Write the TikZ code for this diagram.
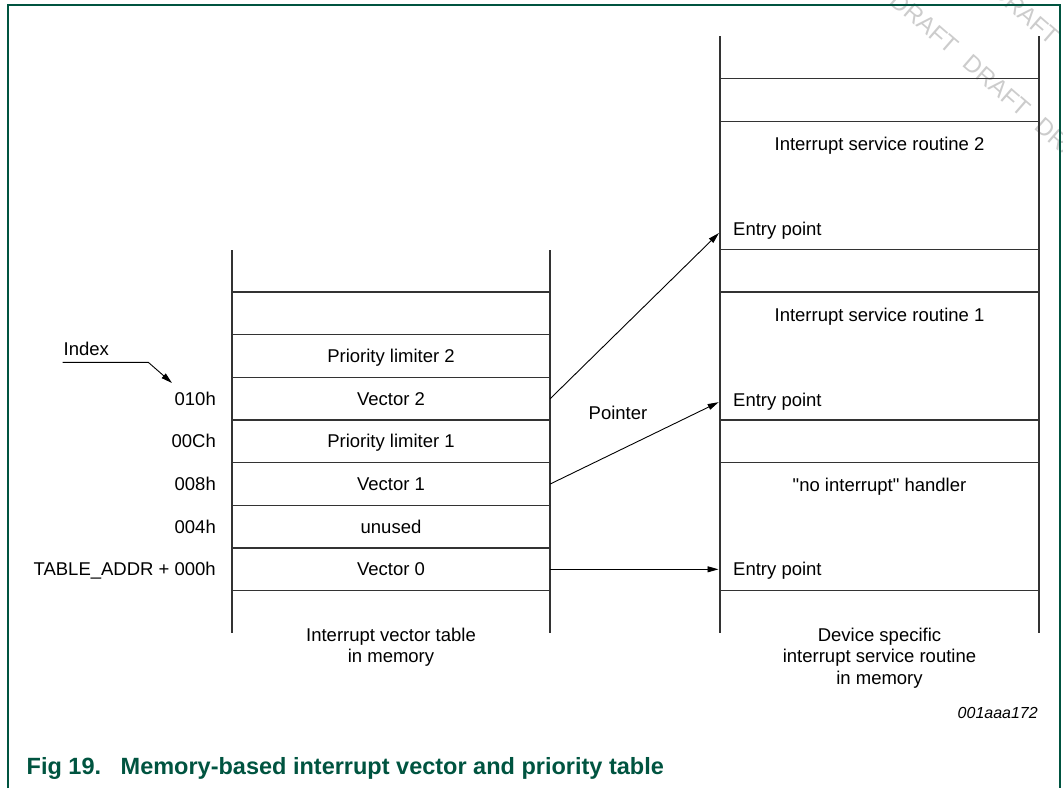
\documentclass[tikz,border=0pt]{standalone}
\usepackage{fontspec}
\setmainfont{Liberation Sans}[Ligatures=TeXOff]
\usetikzlibrary{arrows.meta}
\definecolor{framegreen}{RGB}{0,84,64}
\newcommand\diagfont{\fontsize{18.5}{21.5}\selectfont}
\newcommand\wmword{DRAFT}
\newcommand\wmgap{\hspace{16pt}}

\begin{document}
\begin{tikzpicture}[x=1pt,y=-1pt,
  txt/.style={inner sep=0pt, text height=13.2pt, text depth=0pt, font=\diagfont},
  cell/.style={txt, minimum width=318pt},
  addr/.style={txt, anchor=east},
  entry/.style={txt, anchor=west, inner xsep=13pt},
  capt/.style={inner sep=0pt, anchor=north, align=center, font=\diagfont},
  rule/.style={line width=1.3pt, draw=black!80},
  ptr/.style={line width=0.9pt, draw=black, -{Triangle[length=11pt,width=6pt]}, shorten >=1.5pt},
  wm/.style={inner sep=0pt, text=black!20, font=\fontsize{24}{24}\selectfont, rotate=-41},
  figcap/.style={inner sep=0pt, anchor=base west, text=framegreen,
                 font=\fontsize{23.5}{23.5}\selectfont\bfseries}
]
\useasboundingbox (0,0) rectangle (1063,788);

% watermark in the upper right corner
\begin{scope}
  \clip (0,0) rectangle (1063,788);
  \node[wm] (wmA) at (997,86) {\wmword\wmgap\wmword\wmgap\wmword};
  \node[wm] (wmB) at (1026,14) {\wmword\wmgap\wmword\wmgap\wmword};
\end{scope}

% figure frame
\draw[framegreen, line width=2pt] (8,788) -- (8,4.5) -- (1060,4.5) -- (1060,788);

% ---- interrupt vector table ----
\draw[rule] (232,250) -- (232,633.3);
\draw[rule] (550,250) -- (550,633.3);
\foreach \y in {292,334.7,377.3,420,462.7,505.3,548,590.7}
  \draw[rule] (232,\y) -- (550,\y);

\node[cell] (plim2)  at (391,356)   {Priority limiter 2};
\node[cell] (vec2)   at (391,398.7) {Vector 2};
\node[cell] (plim1)  at (391,441.3) {Priority limiter 1};
\node[cell] (vec1)   at (391,484)   {Vector 1};
\node[cell] (unused) at (391,526.7) {unused};
\node[cell] (vec0)   at (391,569.3) {Vector 0};

\node[addr] (a010) at (216,398.7) {010h};
\node[addr] (a00C) at (216,441.3) {00Ch};
\node[addr] (a008) at (216,484)   {008h};
\node[addr] (a004) at (216,526.7) {004h};
\node[addr] (a000) at (216,569.3) {TABLE\_ADDR + 000h};

\node[capt] (vtcap) at (391,627.4) {Interrupt vector table\\in memory};

% index marker
\node[inner sep=0pt, anchor=base west, font=\diagfont] (idx) at (63.5,355) {Index};
\coordinate (ia) at (62.7,362.3);
\coordinate (ib) at (148.3,362.3);
\coordinate (itip) at (172,383);
\draw[line width=0.9pt, -{Triangle[length=11pt,width=6pt]}] (ia) -- (ib) -- (itip);

% ---- interrupt service routines ----
\draw[rule] (720,36) -- (720,633.3);
\draw[rule] (1039,36) -- (1039,633.3);
\foreach \y in {78.7,121.3,249.3,292,420,462.7,590.7}
  \draw[rule] (720,\y) -- (1039,\y);

\node[txt] (isr2)  at (879.5,143.5) {Interrupt service routine 2};
\node[entry] (ent2) at (720,229)   {Entry point};
\node[txt] (isr1)  at (879.5,314.5) {Interrupt service routine 1};
\node[entry] (ent1) at (720,399.5) {Entry point};
\node[txt] (noint) at (879.5,485)  {"no interrupt" handler};
\node[entry] (ent0) at (720,569.3) {Entry point};

\node[capt] (isrcap) at (879.5,627.4) {Device specific\\interrupt service routine\\in memory};

% pointers from the vector table into the routines
\node[txt] (ptrlbl) at (618,413) {Pointer};
\draw[ptr] (vec2.east) -- ([yshift=-3pt]ent2.west);
\draw[ptr] (vec1.east) -- ([yshift=-2pt]ent1.west);
\draw[ptr] (vec0.east) -- (ent0.west);

% drawing number
\node[inner sep=0pt, anchor=east, text height=11.5pt, text depth=0pt,
      font=\fontsize{16}{16}\selectfont\itshape] (docno) at (1038,713) {001aaa172};

% caption
\node[figcap] (fignum) at (26.5,774) {Fig 19.};
\node[figcap] (figtitle) at (120.5,774) {Memory-based interrupt vector and priority table};
\end{tikzpicture}
\end{document}
